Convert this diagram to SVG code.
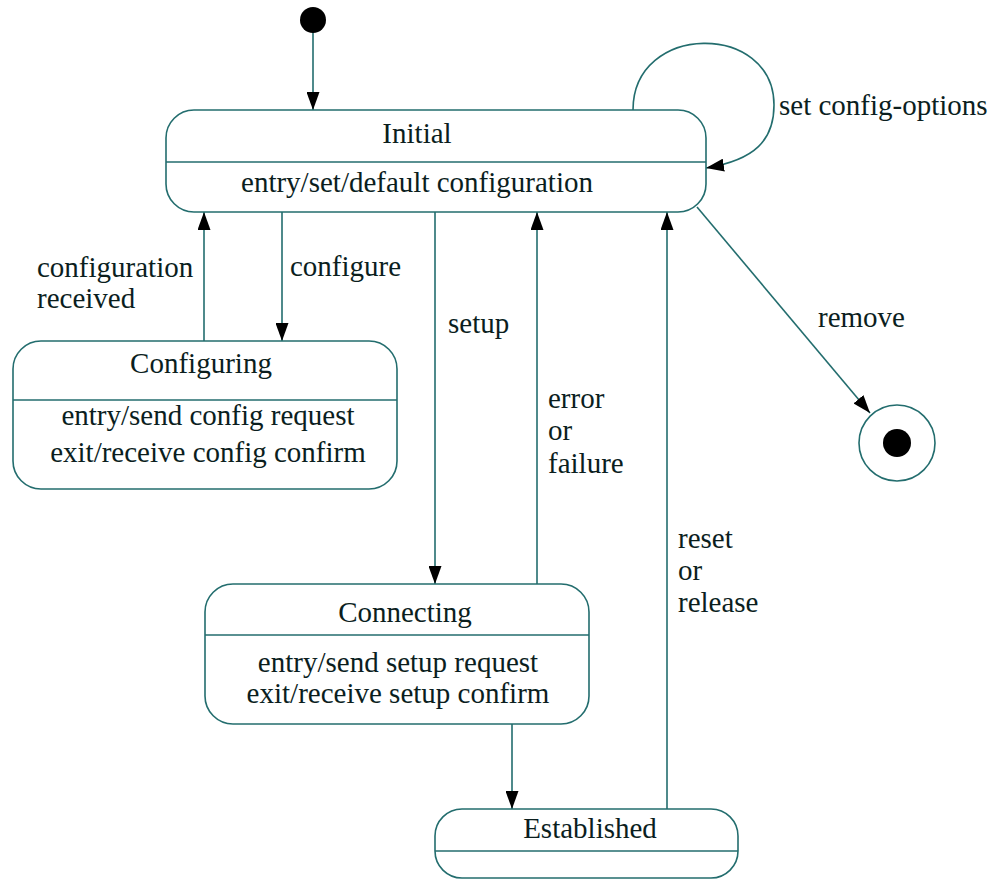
<svg xmlns="http://www.w3.org/2000/svg" width="1000" height="884" viewBox="0 0 1000 884">
<defs>
<marker id="ah" markerUnits="userSpaceOnUse" markerWidth="18" markerHeight="13" refX="18" refY="6.5" orient="auto">
<path d="M0,0 L18,6.5 L0,13 z" fill="#000"/>
</marker>
<style>
.box{fill:#fff;stroke:#236d6e;stroke-width:1.6}
.div{stroke:#236d6e;stroke-width:1.6}
.ln{fill:none;stroke:#236d6e;stroke-width:1.6;marker-end:url(#ah)}
text{font-family:"Liberation Serif","Times New Roman",serif;font-size:29px;fill:#0b1e1e}
.c{text-anchor:middle}
</style>
</defs>
<rect width="1000" height="884" fill="#fff"/>
<g id="connectors">
<line class="ln" x1="313" y1="32" x2="313" y2="110"/>
<path class="ln" d="M633,110 C633,22 774,22 774,105 C774,140 755,160 706,168"/>
<line class="ln" x1="204" y1="341" x2="204" y2="212"/>
<line class="ln" x1="282" y1="212" x2="282" y2="341"/>
<line class="ln" x1="435" y1="212" x2="435" y2="584"/>
<line class="ln" x1="537" y1="584" x2="537" y2="212"/>
<line class="ln" x1="667" y1="809" x2="667" y2="212"/>
<line class="ln" x1="512" y1="724" x2="512" y2="809"/>
<line class="ln" x1="697" y1="207" x2="870" y2="413"/>
<text x="779" y="115">set config-options</text>
<text x="37" y="277">configuration</text>
<text x="37" y="308">received</text>
<text x="290" y="276">configure</text>
<text x="448" y="333">setup</text>
<text x="548" y="408">error</text>
<text x="548" y="440">or</text>
<text x="548" y="473">failure</text>
<text x="678" y="548">reset</text>
<text x="678" y="580">or</text>
<text x="678" y="612">release</text>
<text x="818" y="327">remove</text>
</g>
<g id="start">
<circle cx="313" cy="20" r="13" fill="#000"/>
</g>
<g id="initial">
<rect class="box" x="166" y="110" width="540" height="102" rx="28" ry="28"/>
<line class="div" x1="166" y1="162" x2="706" y2="162"/>
<text class="c" x="417" y="143">Initial</text>
<text class="c" x="417" y="192">entry/set/default configuration</text>
</g>
<g id="configuring">
<rect class="box" x="13" y="341" width="384" height="148" rx="28" ry="28"/>
<line class="div" x1="13" y1="400" x2="397" y2="400"/>
<text class="c" x="201" y="373">Configuring</text>
<text class="c" x="208" y="425">entry/send config request</text>
<text class="c" x="208" y="462">exit/receive config confirm</text>
</g>
<g id="connecting">
<rect class="box" x="205" y="584" width="384" height="140" rx="28" ry="28"/>
<line class="div" x1="205" y1="635" x2="589" y2="635"/>
<text class="c" x="405" y="622">Connecting</text>
<text class="c" x="398" y="672">entry/send setup request</text>
<text class="c" x="398" y="703">exit/receive setup confirm</text>
</g>
<g id="established">
<rect class="box" x="435" y="809" width="303" height="69" rx="27" ry="27"/>
<line class="div" x1="435" y1="851" x2="738" y2="851"/>
<text class="c" x="590" y="838">Established</text>
</g>
<g id="final">
<circle cx="897" cy="443" r="38" fill="#fff" stroke="#236d6e" stroke-width="1.6"/>
<circle cx="897" cy="443" r="14" fill="#000"/>
</g>
</svg>
